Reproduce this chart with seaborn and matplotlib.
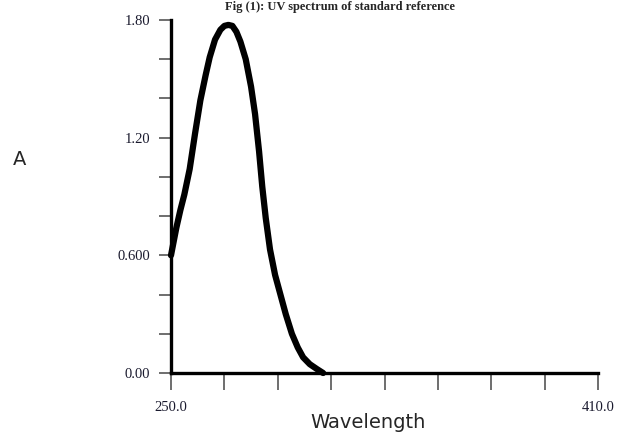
import matplotlib
matplotlib.use("Agg")
import matplotlib.pyplot as plt
import seaborn as sns
import pandas as pd

# values
wavelength = [250.0, 251.0, 252.0, 253.5, 255.0, 257.0, 259.0, 261.0, 263.0, 264.5,
              266.5, 268.5, 270.0, 271.5, 273.0, 274.5, 276.0, 278.0, 280.0, 281.5,
              283.0, 284.2, 285.5, 287.1, 289.0, 290.8, 293.0, 295.3, 297.5, 299.5,
              302.0, 304.7, 307.0]
absorbance = [0.60, 0.67, 0.74, 0.83, 0.91, 1.04, 1.22, 1.39, 1.52, 1.61,
              1.70, 1.75, 1.77, 1.775, 1.77, 1.74, 1.69, 1.60, 1.46, 1.32,
              1.13, 0.95, 0.79, 0.63, 0.50, 0.41, 0.30, 0.20, 0.13, 0.08,
              0.045, 0.02, 0.0]

x_ticks = [250, 270, 290, 310, 330, 350, 370, 390, 410]
x_labels = ["250.0", "", "", "", "", "", "", "", "410.0"]
y_ticks = [0.0, 0.2, 0.4, 0.6, 0.8, 1.0, 1.2, 1.4, 1.6, 1.8]
y_labels = ["0.00", "", "", "0.600", "", "", "1.20", "", "", "1.80"]

sns.set_style("white")
plt.rcParams["font.family"] = ["Liberation Serif", "DejaVu Serif"]

df = pd.DataFrame({"wl": wavelength, "A": absorbance})

fig = plt.figure(figsize=(6.22, 4.37), dpi=100)
ax = fig.add_axes([171 / 622, 1 - 373 / 437, 427 / 622, 353 / 437])

sns.lineplot(data=df, x="wl", y="A", ax=ax, color="black", linewidth=4.5,
             solid_capstyle="round", solid_joinstyle="round", clip_on=False,
             zorder=3)

ax.set_xlim(250, 410)
ax.set_ylim(0, 1.8)
ax.set_xticks(x_ticks)
ax.set_xticklabels(x_labels)
ax.set_yticks(y_ticks)
ax.set_yticklabels(y_labels)

for side in ["top", "right"]:
    ax.spines[side].set_visible(False)
for side in ["left", "bottom"]:
    ax.spines[side].set_linewidth(2.4)
    ax.spines[side].set_color("black")
    ax.spines[side].set_zorder(4)

ax.tick_params(axis="x", direction="out", length=12, width=1.2, color="#555555",
               pad=8, labelsize=10.5, labelcolor="#1a1a2e", bottom=True)
ax.tick_params(axis="y", direction="out", length=9, width=1.2, color="#555555",
               pad=6, labelsize=10.5, labelcolor="#1a1a2e", left=True)

ax.set_xlabel("")
ax.set_ylabel("")

fig.text(368 / 622, 1 - 423 / 437, "Wavelength", ha="center", va="center",
         fontsize=14, family=["DejaVu Sans"])
fig.text(20 / 622, 1 - 160 / 437, "A", ha="center", va="center",
         fontsize=14, family=["DejaVu Sans"])

# caption at the very top of the page
fig.text(340 / 622, 1 - 1 / 437, "Fig (1): UV spectrum of standard reference",
         ha="center", va="top", fontsize=9, fontweight="bold",
         family=["Liberation Serif"])

fig.savefig("out.png", dpi=100)
